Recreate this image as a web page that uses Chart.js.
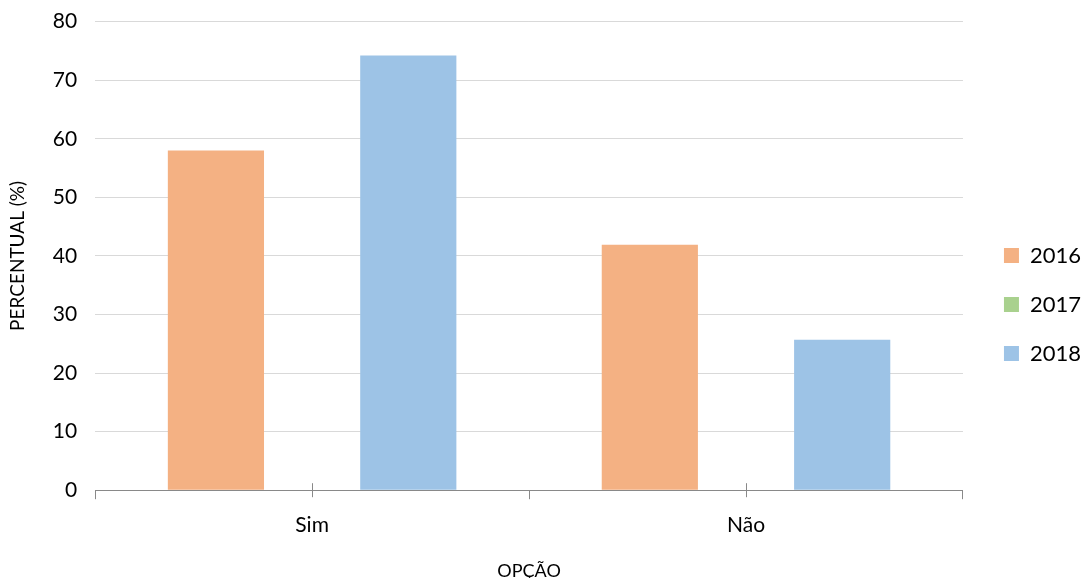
<!DOCTYPE html>
<html>
<head>
<meta charset="utf-8">
<script src="https://cdn.jsdelivr.net/npm/chart.js@4/dist/chart.umd.min.js"></script>
<style>
  html, body { margin: 0; padding: 0; background: #fff; overflow: hidden; }
  #wrap { width: 1088px; height: 598px; position: relative; top: -9px; }
</style>
</head>
<body>
<div id="wrap"><canvas id="chart"></canvas></div>
<script>
// chart data
const categories = ['Sim', 'Não'];
const years = ['2016', '2017', '2018'];
const values2016 = [58, 41.9];
const values2017 = [0, 0];
const values2018 = [74.2, 25.7];
const yTicks = [0, 10, 20, 30, 40, 50, 60, 70, 80];

const colors = ['#f4b183', '#a9d18e', '#9dc3e6'];
const font = "Lato, 'Open Sans', sans-serif";

// small ticks crossing the axis at each category centre
const centerTicks = {
    id: 'centerTicks',
    afterDraw(chart) {
        const x = chart.scales.x;
        const ctx = chart.ctx;
        ctx.save();
        ctx.strokeStyle = '#898989';
        ctx.lineWidth = 1;
        categories.forEach((c, i) => {
            const px = Math.round(x.getPixelForValue(i)) + 0.5;
            ctx.beginPath();
            ctx.moveTo(px, x.top - 7);
            ctx.lineTo(px, x.top + 7);
            ctx.stroke();
        });
        ctx.restore();
    }
};

// nudge the legend a bit right and down, like the original
const legendShift = {
    id: 'legendShift',
    afterLayout(chart) {
        const lg = chart.legend;
        lg.left += 14;
        lg.right += 14;
        lg.top += 18;
        lg.bottom += 18;
    }
};

new Chart(document.getElementById('chart').getContext('2d'), {
    type: 'bar',
    data: {
        labels: categories,
        datasets: [
            { label: years[0], data: values2016, backgroundColor: colors[0] },
            { label: years[1], data: values2017, backgroundColor: colors[1] },
            { label: years[2], data: values2018, backgroundColor: colors[2] },
        ],
    },
    options: {
        responsive: true,
        maintainAspectRatio: false,
        animation: false,
        categoryPercentage: 0.665,
        barPercentage: 1,
        layout: { padding: { top: 0, right: 11, left: 0, bottom: 7 } },
        plugins: {
            legend: {
                position: 'right',
                labels: {
                    boxWidth: 15,
                    boxHeight: 15,
                    padding: 27,
                    color: '#000',
                    font: { family: font, size: 22 },
                },
            },
            tooltip: { enabled: false },
        },
        scales: {
            x: {
                offset: true,
                grid: {
                    offset: true,
                    drawOnChartArea: false,
                    tickLength: 9,
                    color: '#898989',
                },
                border: { color: '#898989', width: 1 },
                ticks: {
                    color: '#000',
                    padding: 13,
                    font: { family: font, size: 21 },
                },
                title: {
                    display: true,
                    text: 'OPÇÃO',
                    color: '#000',
                    padding: { top: 10, bottom: 0 },
                    font: { family: font, size: 18 },
                },
            },
            y: {
                min: 0,
                max: 80,
                afterBuildTicks: (axis) => { axis.ticks = yTicks.map(v => ({ value: v })); },
                grid: { color: '#d9d9d9', drawTicks: false },
                border: { display: false },
                ticks: {
                    color: '#000',
                    padding: 18,
                    font: { family: font, size: 21 },
                },
                title: {
                    display: true,
                    text: 'PERCENTUAL (%)',
                    color: '#000',
                    padding: { top: 6, bottom: 6 },
                    font: { family: font, size: 19 },
                },
            },
        },
    },
    plugins: [centerTicks, legendShift],
});
</script>
</body>
</html>
